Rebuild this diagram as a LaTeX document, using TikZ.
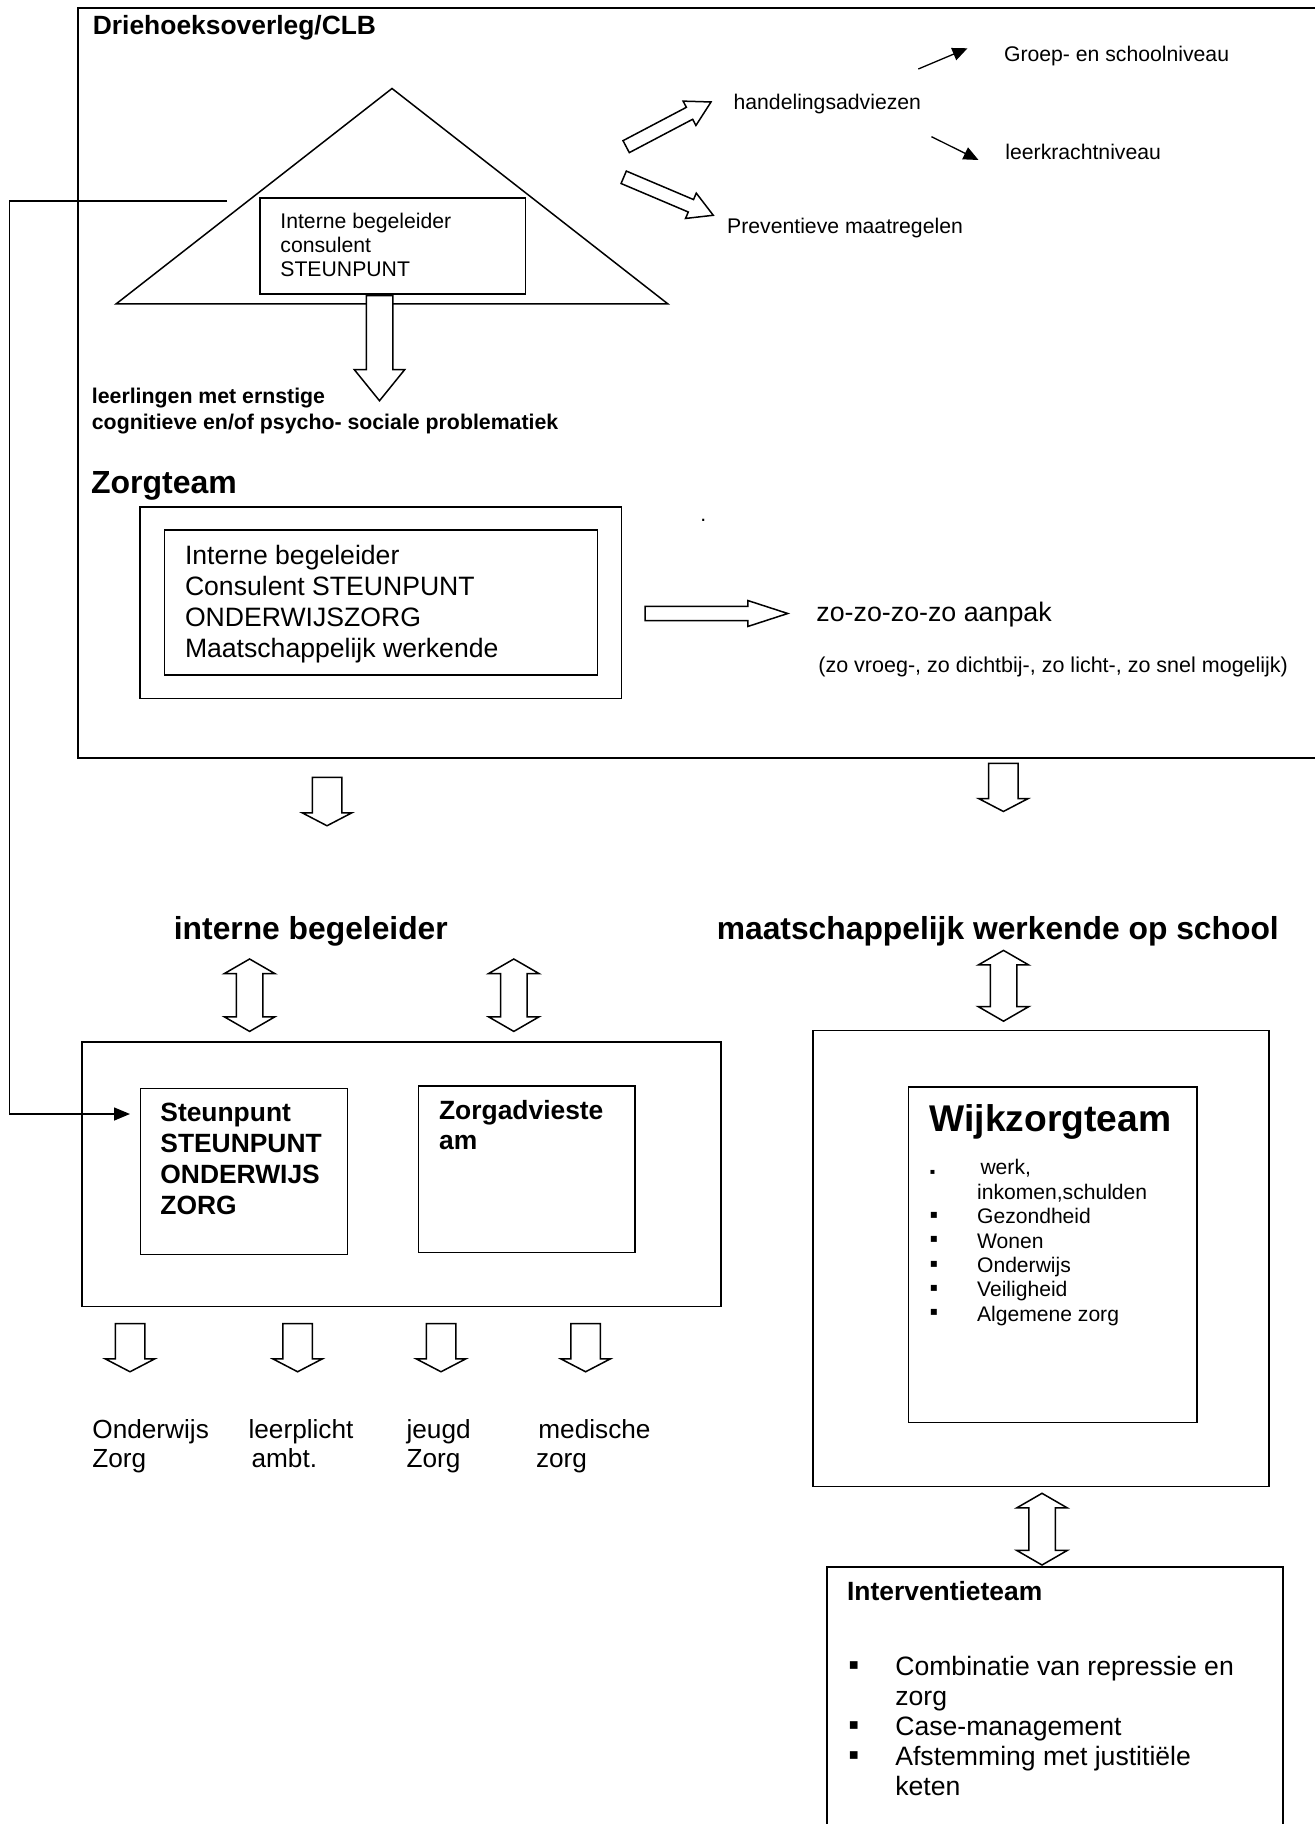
\documentclass[tikz,border=0pt]{standalone}
\usepackage{fontspec}
\setmainfont{Liberation Sans}
\newfontfamily\bulletfont{DejaVu Sans}
\usetikzlibrary{calc,arrows.meta,shapes.arrows}

\tikzset{
	frame/.style={draw, line width=0.75pt, inner sep=0pt, anchor=north west},
	lbl/.style={inner sep=0pt, anchor=base west},
	para/.style={inner sep=0pt, anchor=north west, align=left},
	list/.style={inner sep=0pt, anchor=north west},
	small/.style={font=\fontsize{10.6}{12}\selectfont},
	hollow/.style={to path={let \p1=($(\tikztotarget)-(\tikztostart)$),
			\n1={veclen(\x1,\y1)}, \n2={atan2(\y1,\x1)} in
			(\tikztostart) node[single arrow, draw, fill=white, line width=0.75pt,
			inner sep=0pt, anchor=tail, rotate=\n2, minimum height=\n1, #1] {}}},
	twoway/.style={to path={let \p1=($(\tikztotarget)-(\tikztostart)$),
			\n1={veclen(\x1,\y1)}, \n2={atan2(\y1,\x1)} in
			($(\tikztostart)!0.5!(\tikztotarget)$) node[double arrow, draw, fill=white,
			line width=0.75pt, inner sep=0pt, inner ysep=6.25pt, double arrow head extend=6pt,
			double arrow tip angle=120, rotate=\n2, minimum height=\n1] {}}},
	slim/.style={inner ysep=3pt, single arrow head extend=3.5pt, single arrow tip angle=59},
	downward/.style={inner ysep=7pt, single arrow head extend=5pt, single arrow tip angle=125},
	thin/.style={line width=0.65pt, -{Triangle[length=7.5pt,width=6.5pt]}},
}

\begin{document}
\begin{tikzpicture}[x=0.5pt, y=-0.5pt]
	\useasboundingbox (0,0) rectangle (1315,1824);
	
	% Driehoeksoverleg / CLB
	\node[draw, line width=1.1pt, inner sep=0pt, anchor=north west, minimum width=622pt, minimum height=375pt] (clb) at (77,7) {};
	\node[lbl, font=\bfseries\fontsize{13.2}{15}\selectfont] (clbtitle) at (92.5,34.3) {Driehoeksoverleg/CLB};
	
	\coordinate (apex) at (392,88.5); \coordinate (baseR) at (668,304); \coordinate (baseL) at (116,304);
	\draw[line width=0.75pt] (apex) -- (baseR) -- (baseL) -- cycle;
	
	\node[frame, fill=white, minimum width=132.75pt, minimum height=47.9pt] (tribox) at (259,197.5) {};
	\node[para, small] (tritext) at (280,212.4) {Interne begeleider\\consulent\\STEUNPUNT};
	
	\coordinate (a1e) at (379.5,400);
	\path (a1e |- tribox.south) to[hollow={inner ysep=6.25pt, single arrow head extend=6pt, single arrow tip angle=78}] (a1e);
	\node[para, font=\bfseries\fontsize{10.65}{12.75}\selectfont] (ernstig) at (91.5,387.7) {leerlingen met ernstige\\cognitieve en/of psycho- sociale problematiek};
	
	\coordinate (a2s) at (625.5,147); \coordinate (a2e) at (710.4,102.3);
	\coordinate (a3s) at (623,177); \coordinate (a3e) at (712.6,215);
	\path (a2s) to[hollow=slim] (a2e);
	\path (a3s) to[hollow=slim] (a3e);
	\node[lbl, small] (advies) at (733.2,110) {handelingsadviezen};
	\node[lbl, small] (preventie) at (726.8,233.3) {Preventieve maatregelen};
	\node[lbl, small] (groep) at (1003.6,61.7) {Groep- en schoolniveau};
	\node[lbl, small] (leerkracht) at (1005,159.3) {leerkrachtniveau};
	
	\coordinate (g1) at (918.3,69); \coordinate (g2) at (967.5,48.3);
	\coordinate (k1) at (931.5,136.7); \coordinate (k2) at (978.5,160);
	\draw[thin] (g1) -- (g2);
	\draw[thin] (k1) -- (k2);
	
	% Zorgteam
	\node[lbl, font=\bfseries\fontsize{16}{18}\selectfont] (zorgteam) at (90.6,493.3) {Zorgteam};
	\node[frame, minimum width=240.9pt, minimum height=95.85pt] (zorgouter) at (139,506) {};
	\node[frame, minimum width=216.45pt, minimum height=72.5pt] (zorginner) at (163.6,529.3) {};
	\node[para, font=\fontsize{13.3}{15.5}\selectfont] (zorgtext) at (184.6,544.8) {Interne begeleider\\Consulent STEUNPUNT\\ONDERWIJSZORG\\Maatschappelijk werkende};
	\node[lbl, small] (dot) at (700,521) {.};
	
	\coordinate (a4s) at (644.3,613.5); \coordinate (a4e) at (787,613.5);
	\path (a4s) to[hollow={inner ysep=3.2pt, single arrow head extend=2.9pt, single arrow tip angle=36}] (a4e);
	\node[lbl, font=\fontsize{13.4}{15}\selectfont] (aanpak) at (816,621) {zo-zo-zo-zo aanpak};
	\node[lbl, font=\fontsize{10.75}{12}\selectfont] (zo) at (818,672) {(zo vroeg-, zo dichtbij-, zo licht-, zo snel mogelijk)};
	
	\coordinate (a5s) at (327,776.7); \coordinate (a5e) at (327,825);
	\coordinate (a6s) at (1003.4,762.7); \coordinate (a6e) at (1003.4,810.7);
	\path (a5s) to[hollow=downward] (a5e);
	\path (a6s) to[hollow=downward] (a6e);
	
	% interne begeleider
	\node[lbl, font=\bfseries\fontsize{15.9}{18}\selectfont] (ib) at (173.5,939.3) {interne begeleider};
	\node[lbl, font=\bfseries\fontsize{15.9}{18}\selectfont] (mw) at (716.4,939.3) {maatschappelijk werkende op school};
	
	\coordinate (d1s) at (249.6,959); \coordinate (d1e) at (249.6,1031.4);
	\coordinate (d2s) at (513.8,959); \coordinate (d2e) at (513.8,1031.4);
	\path (d1s) to[twoway] (d1e);
	\path (d2s) to[twoway] (d2e);
	
	\node[frame, minimum width=319.45pt, minimum height=132.1pt] (ibbox) at (81.4,1041.3) {};
	\node[frame, minimum width=103.5pt, minimum height=83.05pt] (steunbox) at (139.6,1087.6) {};
	\node[frame, minimum width=108.1pt, minimum height=83.25pt] (advbox) at (417.8,1085.2) {};
	\node[para, font=\bfseries\fontsize{13.2}{15.4}\selectfont] (steuntext) at (160,1103) {Steunpunt\\STEUNPUNT\\ONDERWIJS\\ZORG};
	\node[para, font=\bfseries\fontsize{13.2}{15}\selectfont] (advtext) at (438.7,1100.2) {Zorgadvieste\\am};
	
	\coordinate (ibline) at (227,201); \coordinate (ibcorner) at (9.5,1114);
	\draw[line width=0.75pt, -{Triangle[length=8pt,width=6.5pt]}, shorten >=4.8pt] (ibline) -| (ibcorner) -- (ibcorner -| steunbox.west);
	
	\foreach \x/\k in {130/1, 297.6/2, 441/3, 585.6/4}{
		\coordinate (top\k) at (\x,1322.9); \coordinate (tip\k) at (\x,1371);
		\path (top\k) to[hollow=downward] (tip\k);
	}
	\node[para, font=\fontsize{13.1}{14.85}\selectfont] (onderwijs) at (92,1418.8) {Onderwijs\\Zorg};
	\node[para, font=\fontsize{13.1}{14.85}\selectfont] (leerplicht) at (248.2,1418.8) {leerplicht\\\hspace*{1.5pt}ambt.};
	\node[para, font=\fontsize{13.1}{14.85}\selectfont] (jeugd) at (406.2,1418.8) {jeugd\\Zorg};
	\node[para, font=\fontsize{13.1}{14.85}\selectfont] (medisch) at (535.6,1418.8) {\hspace*{1.2pt}medische\\zorg};
	
	% Wijkzorgteam
	\coordinate (d3s) at (1003.5,950.4); \coordinate (d3e) at (1003.5,1021.2);
	\path (d3s) to[twoway] (d3e);
	\node[frame, minimum width=228pt, minimum height=228pt] (mwbox) at (812,1029.5) {};
	\node[frame, minimum width=144.2pt, minimum height=167.65pt] (wijkbox) at (907.6,1086.4) {};
	\node[lbl, font=\bfseries\fontsize{18.6}{21}\selectfont] (wijk) at (929.2,1131.1) {Wijkzorgteam};
	\node[list, font=\fontsize{10.55}{12.2}\selectfont] (wijklist) at (929.5,1157.5) {\begin{tabular}{@{}p{23.6pt}@{}l@{}}
			\raisebox{0.3pt}{\bulletfont\fontsize{4}{4}\selectfont ▪} & \hspace*{1.7pt}werk,\\
			& inkomen,schulden\\
			\raisebox{2.7pt}{\bulletfont\fontsize{6}{6}\selectfont ▪} & Gezondheid\\
			\raisebox{2.7pt}{\bulletfont\fontsize{6}{6}\selectfont ▪} & Wonen\\
			\raisebox{2.7pt}{\bulletfont\fontsize{6}{6}\selectfont ▪} & Onderwijs\\
			\raisebox{2.7pt}{\bulletfont\fontsize{6}{6}\selectfont ▪} & Veiligheid\\
			\raisebox{2.7pt}{\bulletfont\fontsize{6}{6}\selectfont ▪} & Algemene zorg
	\end{tabular}};
	
	% Interventieteam
	\coordinate (d4s) at (1042,1493.3); \coordinate (d4e) at (1042,1565);
	\path (d4s) to[twoway] (d4e);
	\node[frame, minimum width=227.9pt, minimum height=140pt] (intbox) at (826.2,1566) {};
	\node[lbl, font=\bfseries\fontsize{13.2}{15}\selectfont] (interventie) at (846.7,1600.7) {Interventieteam};
	\node[list, font=\fontsize{13.3}{15}\selectfont] (intlist) at (848.3,1654) {\begin{tabular}{@{}p{23.3pt}@{}l@{}}
			\raisebox{2.8pt}{\bulletfont\fontsize{7.7}{8}\selectfont ▪} & Combinatie van repressie en\\
			& zorg\\
			\raisebox{2.8pt}{\bulletfont\fontsize{7.7}{8}\selectfont ▪} & Case-management\\
			\raisebox{2.8pt}{\bulletfont\fontsize{7.7}{8}\selectfont ▪} & Afstemming met justitiële\\
			& keten
	\end{tabular}};
\end{tikzpicture}
\end{document}
